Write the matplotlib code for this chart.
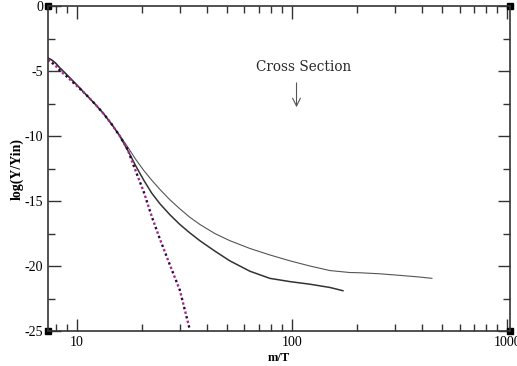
import matplotlib
matplotlib.use("Agg")
import matplotlib.pyplot as plt
from matplotlib.ticker import LogLocator, FixedLocator, FuncFormatter, MultipleLocator

plt.rcParams['axes.unicode_minus'] = False
plt.rcParams['font.family'] = 'Liberation Serif'

# upper thin curve
m_upper = [7.33, 7.63, 7.96, 8.31, 8.86, 9.55, 10.29, 11.21, 12.22, 13.31, 14.5, 15.8,
           17.21, 18.75, 20.43, 22.26, 24.25, 27.0, 30.05, 33.44, 37.22, 43.7, 51.3,
           63.6, 78.8, 97.6, 120.9, 149.7, 185, 206.5, 255.8, 316.8, 392.6, 446.5]
y_upper = [-4.0, -4.15, -4.4, -4.75, -5.2, -5.75, -6.3, -6.95, -7.6, -8.3, -9.1, -9.95,
           -10.85, -11.8, -12.65, -13.4, -14.1, -14.9, -15.6, -16.25, -16.8, -17.5, -18.05,
           -18.65, -19.15, -19.6, -20.0, -20.35, -20.5, -20.52, -20.6, -20.72, -20.85, -20.95]

# lower curve
m_lower = [7.33, 7.63, 7.96, 8.31, 8.86, 9.55, 10.29, 11.21, 12.22, 13.31, 14.5, 15.8,
           17.21, 18.75, 20.43, 22.26, 24.25, 27.0, 30.05, 33.44, 37.22, 43.7, 51.3,
           63.6, 78.8, 97.6, 120.9, 149.7, 172.2]
y_lower = [-4.0, -4.15, -4.4, -4.75, -5.2, -5.75, -6.3, -6.95, -7.6, -8.3, -9.1, -10.0,
           -11.1, -12.3, -13.4, -14.4, -15.2, -16.05, -16.8, -17.45, -18.05, -18.85, -19.6,
           -20.4, -20.95, -21.2, -21.4, -21.65, -21.9]

# dotted approximation
m_dot = [7.33, 7.63, 7.96, 8.31, 8.86, 9.55, 10.29, 11.21, 12.22, 13.31, 14.5, 15.8,
         17.21, 18.75, 20.43, 22.26, 24.25, 27.0, 30.05, 33.44]
y_dot = [-4.15, -4.35, -4.6, -4.95, -5.35, -5.85, -6.35, -6.95, -7.6, -8.3, -9.1, -10.0,
         -11.05, -12.7, -14.3, -16.2, -17.9, -19.9, -21.85, -24.9]

fig = plt.figure(figsize=(5.17, 3.66), dpi=100)
ax = fig.add_axes([48 / 517, 1 - 331 / 366, 462 / 517, 325 / 366])

ax.plot(m_upper, y_upper, color='#555555', lw=0.8)
ax.plot(m_lower, y_lower, color='#333333', lw=1.1)
ax.plot(m_dot, y_dot, color='#b0209b', lw=1.7, dashes=(1, 3), dash_capstyle='butt')
ax.plot(m_dot, y_dot, color='#2a0a30', lw=1.7, dashes=(1, 3), dash_capstyle='butt')
ax.lines[-1].set_dashes((0, 2, 1, 1))

ax.set_xscale('log')
ax.set_xlim(7.33, 1030)
ax.set_ylim(-25, 0)

ax.xaxis.set_major_locator(FixedLocator([10, 100, 1000]))
ax.xaxis.set_major_formatter(FuncFormatter(lambda v, p: '%g' % v))
ax.xaxis.set_minor_locator(LogLocator(base=10, subs=range(2, 10)))
ax.xaxis.set_minor_formatter(FuncFormatter(lambda v, p: ''))
ax.yaxis.set_major_locator(MultipleLocator(5))
ax.yaxis.set_minor_locator(MultipleLocator(2.5))
ax.yaxis.set_major_formatter(FuncFormatter(lambda v, p: '%d' % v))

ax.tick_params(which='both', direction='in', top=True, right=True, colors='#333333',
               labelcolor='black', labelsize=10)
ax.tick_params(which='major', length=9, width=1)
ax.tick_params(which='minor', length=5, width=1)
for s in ax.spines.values():
    s.set_color('#333333')
    s.set_linewidth(1.2)

# corner markers
ax.plot([0, 0, 1, 1], [0, 1, 0, 1], 's', color='black', ms=4, transform=ax.transAxes,
        clip_on=False)

ax.set_xlabel('m/T', fontsize=9, fontweight='bold', labelpad=2)
ax.set_ylabel('log(Y/Yin)', fontsize=10, fontweight='bold', labelpad=1)

ax.text(112.7, -4.7, 'Cross Section', family='DejaVu Serif', fontsize=9.8,
        ha='center', va='center', color='#2a2a2a')
ax.annotate('', xy=(104.8, -8.0), xytext=(104.8, -5.7),
            arrowprops=dict(arrowstyle='->', color='#555555', lw=0.8,
                            mutation_scale=14))

fig.savefig('out.png', dpi=100)
